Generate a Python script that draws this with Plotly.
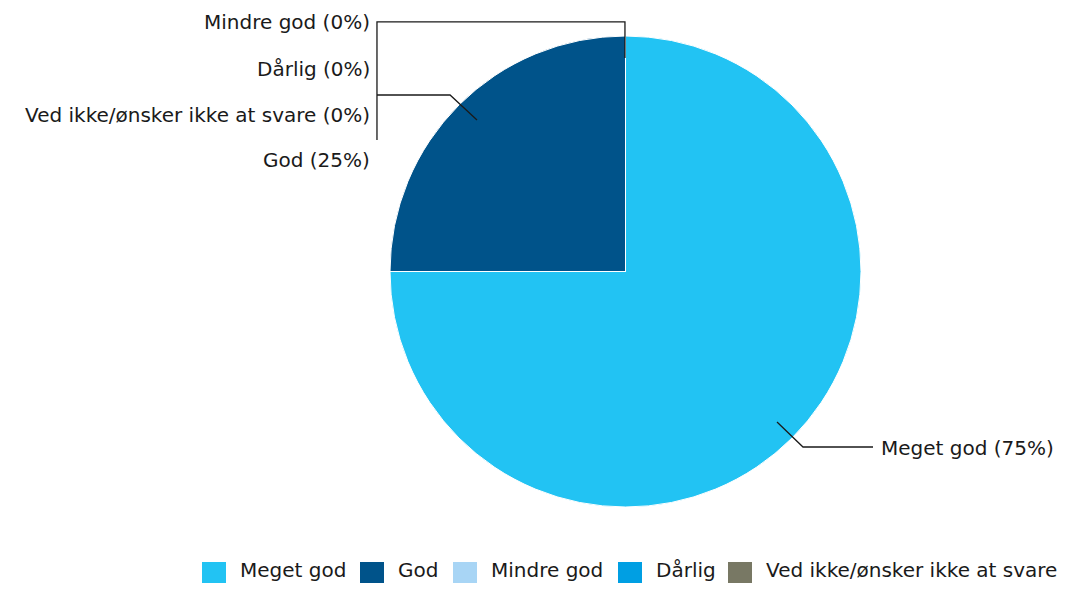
import plotly.graph_objects as go

labels = ['Meget god', 'God', 'Mindre god', 'Dårlig', 'Ved ikke/ønsker ikke at svare']
values = [75, 25, 0, 0, 0]
colors = ['#22C3F3', '#00538A', '#A8D5F5', '#009FE3', '#787864']

FONT = 'DejaVu Sans'
TXT = '#1a1a1a'

# the page puts the autosized figure at (8, 8) with size 1053 x 575
OFF, W, H = 8, 1053, 575


def px(x, y):
    # screen pixel -> paper coords (margins are zero)
    return (x - OFF) / W, 1 - (y - OFF) / H


fig = go.Figure()
fig.add_trace(go.Pie(
    labels=labels, values=values, sort=False, direction='clockwise', rotation=0,
    marker=dict(colors=colors, line=dict(color='white', width=1)),
    textinfo='none', hoverinfo='label+percent', showlegend=False,
    domain=dict(x=[px(390, 0)[0], px(861, 0)[0]], y=[px(0, 507)[1], px(0, 36)[1]]),
))

total = sum(values)
# outside label positions (pixels)
label_pos = {
    'Meget god': (879, 448, 'left'),
    'God': (372, 160, 'right'),
    'Mindre god': (372, 22, 'right'),
    'Dårlig': (372, 69, 'right'),
    'Ved ikke/ønsker ikke at svare': (372, 115, 'right'),
}
annotations = []
for lab, v in zip(labels, values):
    x, y, al = label_pos[lab]
    ax, ay = px(x, y)
    annotations.append(dict(
        x=ax, y=ay, xref='paper', yref='paper', showarrow=False,
        text='{} ({:.0f}%)'.format(lab, 100 * v / total),
        xanchor=al, yanchor='middle', font=dict(family=FONT, size=20, color=TXT),
    ))

# leader lines
leaders = [
    [(377, 140), (377, 22), (625, 22), (625, 58)],
    [(377, 95), (450, 95), (477, 120)],
    [(873, 447), (803, 447), (777, 422)],
]
shapes = []
for pts in leaders:
    path = 'M ' + ' L '.join('{:.4f},{:.4f}'.format(*px(x, y)) for x, y in pts)
    shapes.append(dict(type='path', path=path, xref='paper', yref='paper',
                       line=dict(color=TXT, width=1.3)))

# legend drawn by hand (big square swatches)
legend_x = [202, 360, 453, 618, 728]
for lab, col, lx in zip(labels, colors, legend_x):
    x0, y0 = px(lx, 562)
    x1, y1 = px(lx + 24, 586)
    shapes.append(dict(type='rect', xref='paper', yref='paper', x0=x0, x1=x1, y0=y1, y1=y0,
                       fillcolor=col, line=dict(width=0)))
    tx, ty = px(lx + 36, 570)
    annotations.append(dict(x=tx, y=ty, xref='paper', yref='paper', showarrow=False,
                            text=lab, xanchor='left', yanchor='middle',
                            font=dict(family=FONT, size=20, color=TXT)))

fig.update_layout(
    margin=dict(l=0, r=0, t=0, b=0),
    paper_bgcolor='white', plot_bgcolor='white',
    annotations=annotations, shapes=shapes,
    showlegend=False,
)

fig.write_html('out.html')
